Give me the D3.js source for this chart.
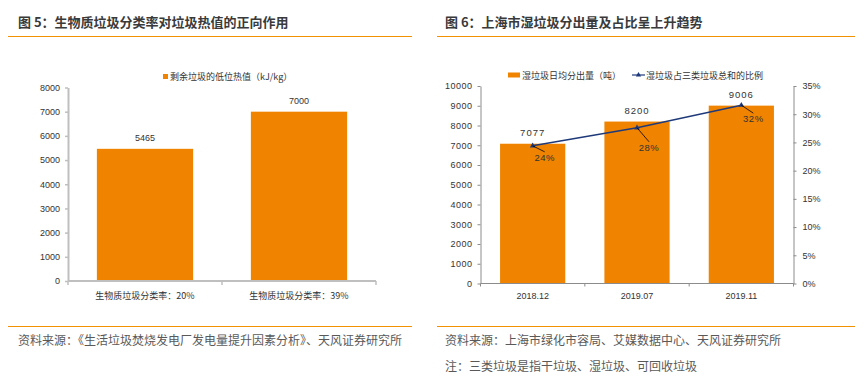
<!DOCTYPE html>
<html><head><meta charset="utf-8">
<script src="https://cdn.jsdelivr.net/npm/d3@7"></script>
<style>
body{margin:0;background:#fff;}
svg{display:block;}
</style></head>
<body><svg id="c" width="867" height="377"></svg>
<script>
// Chart 5 data
const cats5 = ["生物质垃圾分类率：20%", "生物质垃圾分类率：39%"];
const vals5 = [5465, 7000];
const ticks5 = [0,1000,2000,3000,4000,5000,6000,7000,8000];
const legend5 = "剩余垃圾的低位热值（kJ/kg）";
const title5 = "图 5：生物质垃圾分类率对垃圾热值的正向作用";
const source5 = "资料来源：《生活垃圾焚烧发电厂发电量提升因素分析》、天风证券研究所";

// Chart 6 data
const cats6 = ["2018.12", "2019.07", "2019.11"];
const bars6 = [7077, 8200, 9006];
const ratio6 = [0.244, 0.276, 0.316];
const ratioLabels6 = ["24%", "28%", "32%"];
const ticksL6 = [0,1000,2000,3000,4000,5000,6000,7000,8000,9000,10000];
const ticksR6 = [0,0.05,0.10,0.15,0.20,0.25,0.30,0.35];
const legendBar6 = "湿垃圾日均分出量（吨）";
const legendLine6 = "湿垃圾占三类垃圾总和的比例";
const title6 = "图 6：上海市湿垃圾分出量及占比呈上升趋势";
const source6 = "资料来源：上海市绿化市容局、艾媒数据中心、天风证券研究所";
const note6 = "注：三类垃圾是指干垃圾、湿垃圾、可回收垃圾";

const ORANGE = "#F08400";
const LINE = "#1F3A7A";
const CJK = "'Noto Sans CJK SC', 'Noto Sans', sans-serif";
const NUM = "'Liberation Sans', Arial, sans-serif";

const svg = d3.select("#c");

// ---------- headers/footers ----------
function frame(x0, x1, tx, title, lines) {
  svg.append("text").attr("x", tx).attr("y", 27).text(title)
    .attr("font-family", CJK).attr("font-size", 13).attr("font-weight", "bold").attr("fill", "#3a3a3a");
  svg.append("line").attr("x1", x0).attr("x2", x1).attr("y1", 36.5).attr("y2", 36.5)
    .attr("stroke", "#F39200").attr("stroke-width", 1.2);
  svg.append("line").attr("x1", x0).attr("x2", x1).attr("y1", 326.5).attr("y2", 326.5)
    .attr("stroke", "#F39200").attr("stroke-width", 1.2);
  lines.forEach((t, i) => {
    svg.append("text").attr("x", tx).attr("y", 345 + i * 25.5).text(t)
      .attr("font-family", CJK).attr("font-size", 12).attr("fill", "#595959");
  });
}
frame(8, 412, 18, title5, [source5]);
frame(437, 855, 445, title6, [source6, note6]);

// ---------- Chart 5 ----------
{
  const x = d3.scaleBand().domain(cats5).range([68, 376]).paddingInner(0.375).paddingOuter(0.1875);
  const y = d3.scaleLinear().domain([0, 8000]).range([281, 87.5]);
  const g = svg.append("g");
  g.selectAll("rect.b").data(vals5).join("rect")
    .attr("x", (d, i) => x(cats5[i])).attr("width", x.bandwidth())
    .attr("y", d => y(d)).attr("height", d => y(0) - y(d)).attr("fill", ORANGE);
  g.selectAll("text.v").data(vals5).join("text")
    .attr("x", (d, i) => x(cats5[i]) + x.bandwidth() / 2).attr("y", d => y(d) - 8)
    .attr("text-anchor", "middle").attr("font-family", NUM).attr("font-size", 9).attr("fill", "#333")
    .text(d => d);
  // y axis
  const ya = g.append("g").attr("transform", "translate(68,0)")
    .call(d3.axisLeft(y).tickValues(ticks5).tickFormat(d3.format("d")).tickSize(3).tickSizeOuter(0).tickPadding(5));
  ya.select(".domain").attr("stroke", "#bfbfbf").attr("stroke-width", 2);
  ya.selectAll(".tick line").attr("stroke", "#bfbfbf").attr("stroke-width", 1.5);
  ya.selectAll("text").attr("font-family", NUM).attr("font-size", 9).attr("fill", "#333");
  // x axis
  const xa = g.append("g").attr("transform", "translate(0,281)");
  xa.append("line").attr("x1", 68).attr("x2", 376).attr("stroke", "#bfbfbf").attr("stroke-width", 2);
  const bounds = [68, 68 + (376 - 68) / 2, 376];
  bounds.forEach(b => xa.append("line").attr("x1", b).attr("x2", b).attr("y1", 0).attr("y2", 4).attr("stroke", "#bfbfbf").attr("stroke-width", 1.5));
  cats5.forEach(c => xa.append("text").attr("x", x(c) + x.bandwidth() / 2).attr("y", 18)
    .attr("text-anchor", "middle").attr("font-family", CJK).attr("font-size", 9).attr("fill", "#333").text(c));
  // legend
  svg.append("rect").attr("x", 163).attr("y", 74).attr("width", 5).attr("height", 5).attr("fill", ORANGE);
  svg.append("text").attr("x", 170).attr("y", 80).text(legend5)
    .attr("font-family", CJK).attr("font-size", 9).attr("fill", "#333");
}

// ---------- Chart 6 ----------
{
  const x = d3.scaleBand().domain(cats6).range([480.5, 793.5]).paddingInner(0.375).paddingOuter(0.1875);
  const y = d3.scaleLinear().domain([0, 10000]).range([283.5, 86]);
  const y2 = d3.scaleLinear().domain([0, 0.35]).range([283.5, 86]);
  const g = svg.append("g");
  g.selectAll("rect.b").data(bars6).join("rect")
    .attr("x", (d, i) => x(cats6[i])).attr("width", x.bandwidth())
    .attr("y", d => y(d)).attr("height", d => y(0) - y(d)).attr("fill", ORANGE);
  g.selectAll("text.v").data(bars6).join("text")
    .attr("x", (d, i) => x(cats6[i]) + x.bandwidth() / 2).attr("y", d => y(d) - 8)
    .attr("text-anchor", "middle").attr("font-family", NUM).attr("font-size", 9.5).attr("fill", "#333")
    .attr("letter-spacing", 1).text(d => d);
  // left axis
  const ya = g.append("g").attr("transform", "translate(480.5,0)")
    .call(d3.axisLeft(y).tickValues(ticksL6).tickFormat(d3.format("d")).tickSize(3).tickSizeOuter(0).tickPadding(5));
  ya.select(".domain").attr("stroke", "#8c8c8c");
  ya.selectAll(".tick line").attr("stroke", "#8c8c8c");
  ya.selectAll("text").attr("font-family", NUM).attr("font-size", 9).attr("fill", "#333").attr("letter-spacing", 0.5);
  // right axis
  const yb = g.append("g").attr("transform", "translate(793.5,0)")
    .call(d3.axisRight(y2).tickValues(ticksR6).tickFormat(d3.format(".0%")).tickSize(3).tickSizeOuter(0).tickPadding(6));
  yb.select(".domain").attr("stroke", "#8c8c8c");
  yb.selectAll(".tick line").attr("stroke", "#8c8c8c");
  yb.selectAll("text").attr("font-family", NUM).attr("font-size", 9).attr("fill", "#333");
  // x axis
  const xa = g.append("g").attr("transform", "translate(0,283.5)");
  xa.append("line").attr("x1", 480.5).attr("x2", 793.5).attr("stroke", "#8c8c8c");
  const step = (793.5 - 480.5) / 3;
  [0, 1, 2, 3].forEach(k => xa.append("line").attr("x1", 480.5 + k * step).attr("x2", 480.5 + k * step)
    .attr("y1", 0).attr("y2", 3).attr("stroke", "#8c8c8c"));
  cats6.forEach(c => xa.append("text").attr("x", x(c) + x.bandwidth() / 2).attr("y", 15)
    .attr("text-anchor", "middle").attr("font-family", NUM).attr("font-size", 9).attr("fill", "#333").text(c));
  // line
  const cx = i => x(cats6[i]) + x.bandwidth() / 2;
  const line = d3.line().x((d, i) => cx(i)).y(d => y2(d));
  g.append("path").datum(ratio6).attr("d", line).attr("fill", "none").attr("stroke", LINE).attr("stroke-width", 1.5);
  g.selectAll("path.m").data(ratio6).join("path")
    .attr("d", d3.symbol().type(d3.symbolTriangle).size(14))
    .attr("transform", (d, i) => `translate(${cx(i)},${y2(d)})`)
    .attr("fill", LINE);
  // leader lines and labels
  const offs = [[12, 10], [12, 18], [12, 12]];
  ratio6.forEach((d, i) => {
    const px = cx(i), py = y2(d);
    g.append("line").attr("x1", px).attr("y1", py).attr("x2", px + offs[i][0]).attr("y2", py + offs[i][1] - 4)
      .attr("stroke", "#000").attr("stroke-width", 0.8);
    g.append("text").attr("x", px + offs[i][0]).attr("y", py + offs[i][1] + 5)
      .attr("text-anchor", "middle").attr("font-family", NUM).attr("font-size", 9.5).attr("fill", "#333")
      .attr("letter-spacing", 0.5).text(ratioLabels6[i]);
  });
  // legend
  svg.append("rect").attr("x", 508).attr("y", 72.5).attr("width", 12).attr("height", 5).attr("fill", ORANGE);
  svg.append("text").attr("x", 522).attr("y", 79).text(legendBar6)
    .attr("font-family", CJK).attr("font-size", 9).attr("fill", "#333");
  svg.append("line").attr("x1", 632).attr("x2", 645).attr("y1", 75).attr("y2", 75).attr("stroke", LINE).attr("stroke-width", 1.2);
  svg.append("path").attr("d", d3.symbol().type(d3.symbolTriangle).size(12)).attr("transform", "translate(638.5,75)").attr("fill", LINE);
  svg.append("text").attr("x", 646).attr("y", 79).text(legendLine6)
    .attr("font-family", CJK).attr("font-size", 9).attr("fill", "#333");
}
</script></body></html>
